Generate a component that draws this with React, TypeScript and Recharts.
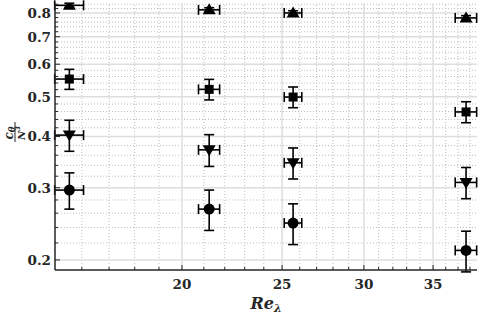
import React from "react";
import { ScatterChart, Scatter, XAxis, YAxis, ErrorBar, ReferenceLine } from "recharts";

// Re_lambda positions and their horizontal error
const reLambda = [15.56, 21.25, 25.62, 37.67];
const reErr = [0.5, 0.5, 0.5, 0.9];

// c_theta / N^3 for the four marker families
const upVals = [0.835, 0.814, 0.8, 0.778];
const upErr = [0.01, 0.01, 0.01, 0.01];
const squareVals = [0.552, 0.521, 0.499, 0.459];
const squareErr = [0.031, 0.03, 0.029, 0.027];
const downVals = [0.403, 0.371, 0.345, 0.309];
const downErr = [0.035, 0.033, 0.03, 0.027];
const circleVals = [0.296, 0.266, 0.246, 0.211];
const circleErr = [0.03, 0.03, 0.028, 0.024];

const xMajor = [20, 25, 30, 35];
const xMinor = [16, 17, 18, 19, 21, 22, 23, 24, 26, 27, 28, 29, 31, 32, 33, 34, 36, 37, 38];
const yMajor = [0.2, 0.3, 0.4, 0.5, 0.6, 0.7, 0.8];
const yMinor = [
  0.22, 0.24, 0.26, 0.28, 0.32, 0.34, 0.36, 0.38, 0.42, 0.44, 0.46, 0.48,
  0.52, 0.54, 0.56, 0.58, 0.62, 0.64, 0.66, 0.68, 0.72, 0.74, 0.76, 0.78, 0.82, 0.84,
];

const xDomain = [15.07, 38.6];
const yDomain = [0.189, 0.846];

const xTicks = [...xMajor, ...xMinor].sort((a, b) => a - b);
const yTicks = [...yMajor, ...yMinor].sort((a, b) => a - b);

const build = (vals: number[], errs: number[]) =>
  reLambda.map((x, i) => ({ x, y: vals[i], ex: reErr[i], ey: errs[i] }));

const INK = "#262626";
const labelStyle = { fontFamily: '"DejaVu Serif", serif', fontWeight: "bold" as const, fontSize: 13.5 };

const BottomTick = ({ x, y, payload }: any) => {
  const major = xMajor.includes(payload.value);
  return (
    <g>
      <line x1={x} y1={y} x2={x} y2={y - (major ? 5 : 3)} stroke={INK} strokeWidth={1} />
      {major && (
        <text x={x} y={y + 19} textAnchor="middle" fill={INK} stroke="none" style={labelStyle}>
          {payload.value}
        </text>
      )}
    </g>
  );
};

const TopTick = ({ x, y, payload }: any) => {
  const major = xMajor.includes(payload.value);
  return <line x1={x} y1={y} x2={x} y2={y + (major ? 5 : 3)} stroke={INK} strokeWidth={1} />;
};

const LeftTick = ({ x, y, payload }: any) => {
  const major = yMajor.includes(payload.value);
  return (
    <g>
      <line x1={x} y1={y} x2={x + (major ? 5 : 3)} y2={y} stroke={INK} strokeWidth={1} />
      {major && (
        <text x={x - 4} y={y + 5} textAnchor="end" fill={INK} stroke="none" style={labelStyle}>
          {payload.value.toFixed(1)}
        </text>
      )}
    </g>
  );
};

const RightTick = ({ x, y, payload }: any) => {
  const major = yMajor.includes(payload.value);
  return <line x1={x} y1={y} x2={x - (major ? 5 : 3)} y2={y} stroke={INK} strokeWidth={1} />;
};

const marker = (kind: string) => (p: any) => {
  const { cx, cy } = p;
  if (kind === "up")
    return <polygon points={`${cx},${cy - 6.5} ${cx - 6.5},${cy + 4.5} ${cx + 6.5},${cy + 4.5}`} fill="#000" />;
  if (kind === "down")
    return <polygon points={`${cx},${cy + 6.5} ${cx - 6.5},${cy - 4.5} ${cx + 6.5},${cy - 4.5}`} fill="#000" />;
  if (kind === "square") return <rect x={cx - 4.5} y={cy - 4.5} width={9} height={9} fill="#000" />;
  return <circle cx={cx} cy={cy} r={5.5} fill="#000" />;
};

const series = [
  { name: "up", data: build(upVals, upErr) },
  { name: "square", data: build(squareVals, squareErr) },
  { name: "down", data: build(downVals, downErr) },
  { name: "circle", data: build(circleVals, circleErr) },
];

export default function App() {
  return (
    <div style={{ position: "absolute", left: 0, top: 0, width: 479, height: 315, background: "#fff" }}>
      <ScatterChart width={479} height={315} margin={{ top: 3, right: 2, bottom: 0, left: 0 }}>
        <XAxis
          type="number"
          dataKey="x"
          scale="log"
          domain={xDomain}
          allowDataOverflow
          ticks={xTicks}
          interval={0}
          tickSize={0}
          tickMargin={0}
          tickLine={false}
          tick={<BottomTick />}
          height={45}
          axisLine={{ stroke: INK, strokeWidth: 1.5 }}
        />
        <XAxis
          xAxisId="top"
          orientation="top"
          type="number"
          dataKey="x"
          scale="log"
          domain={xDomain}
          allowDataOverflow
          ticks={xTicks}
          interval={0}
          tickSize={0}
          tickMargin={0}
          tickLine={false}
          tick={<TopTick />}
          height={0}
          axisLine={{ stroke: INK, strokeWidth: 1.5 }}
        />
        <YAxis
          type="number"
          dataKey="y"
          scale="log"
          domain={yDomain}
          allowDataOverflow
          ticks={yTicks}
          interval={0}
          tickSize={0}
          tickMargin={0}
          tickLine={false}
          tick={<LeftTick />}
          width={55}
          axisLine={{ stroke: INK, strokeWidth: 1.5 }}
        />
        <YAxis
          yAxisId="right"
          orientation="right"
          type="number"
          dataKey="y"
          scale="log"
          domain={yDomain}
          allowDataOverflow
          ticks={yTicks}
          interval={0}
          tickSize={0}
          tickMargin={0}
          tickLine={false}
          tick={<RightTick />}
          width={0}
          axisLine={{ stroke: INK, strokeWidth: 1.5 }}
        />
        {xMinor.map((v) => (
          <ReferenceLine key={"xm" + v} x={v} stroke="#bdbdbd" strokeDasharray="1 2" strokeWidth={1} />
        ))}
        {yMinor.map((v) => (
          <ReferenceLine key={"ym" + v} y={v} stroke="#bdbdbd" strokeDasharray="1 2" strokeWidth={1} />
        ))}
        {xMajor.map((v) => (
          <ReferenceLine key={"xM" + v} x={v} stroke="#dedede" strokeWidth={1.5} />
        ))}
        {yMajor.map((v) => (
          <ReferenceLine key={"yM" + v} y={v} stroke="#dedede" strokeWidth={1.5} />
        ))}
        {series.map((s) => (
          <Scatter
            key={s.name}
            data={s.data}
            fill="#000"
            shape={marker(s.name)}
            isAnimationActive={false}
          >
            <ErrorBar dataKey="ex" direction="x" width={5} stroke="#000" strokeWidth={1.6} isAnimationActive={false} />
            <ErrorBar dataKey="ey" direction="y" width={5} stroke="#000" strokeWidth={1.6} isAnimationActive={false} />
          </Scatter>
        ))}
      </ScatterChart>
      <svg
        width={479}
        height={315}
        style={{ position: "absolute", left: 0, top: 0, pointerEvents: "none" }}
      >
        <text
          x={266}
          y={309}
          textAnchor="middle"
          fill={INK}
          style={{ fontFamily: '"DejaVu Serif", serif', fontWeight: "bold", fontStyle: "italic", fontSize: 16 }}
        >
          Re
          <tspan fontSize={11} dy={3}>λ</tspan>
        </text>
        <g
          transform="translate(15,132) rotate(-90)"
          fill={INK}
          style={{ fontFamily: '"DejaVu Serif", serif', fontWeight: "bold", fontStyle: "italic" }}
        >
          <text x={-1} y={-2.5} textAnchor="middle" fontSize={12}>
            c<tspan fontSize={8.5} dy={2}>θ</tspan>
          </text>
          <line x1={-10} y1={0} x2={10} y2={0} stroke={INK} strokeWidth={1} />
          <text x={-1} y={9.5} textAnchor="middle" fontSize={10}>
            N<tspan fontSize={7} dy={-4.5}>3</tspan>
          </text>
        </g>
      </svg>
    </div>
  );
}
